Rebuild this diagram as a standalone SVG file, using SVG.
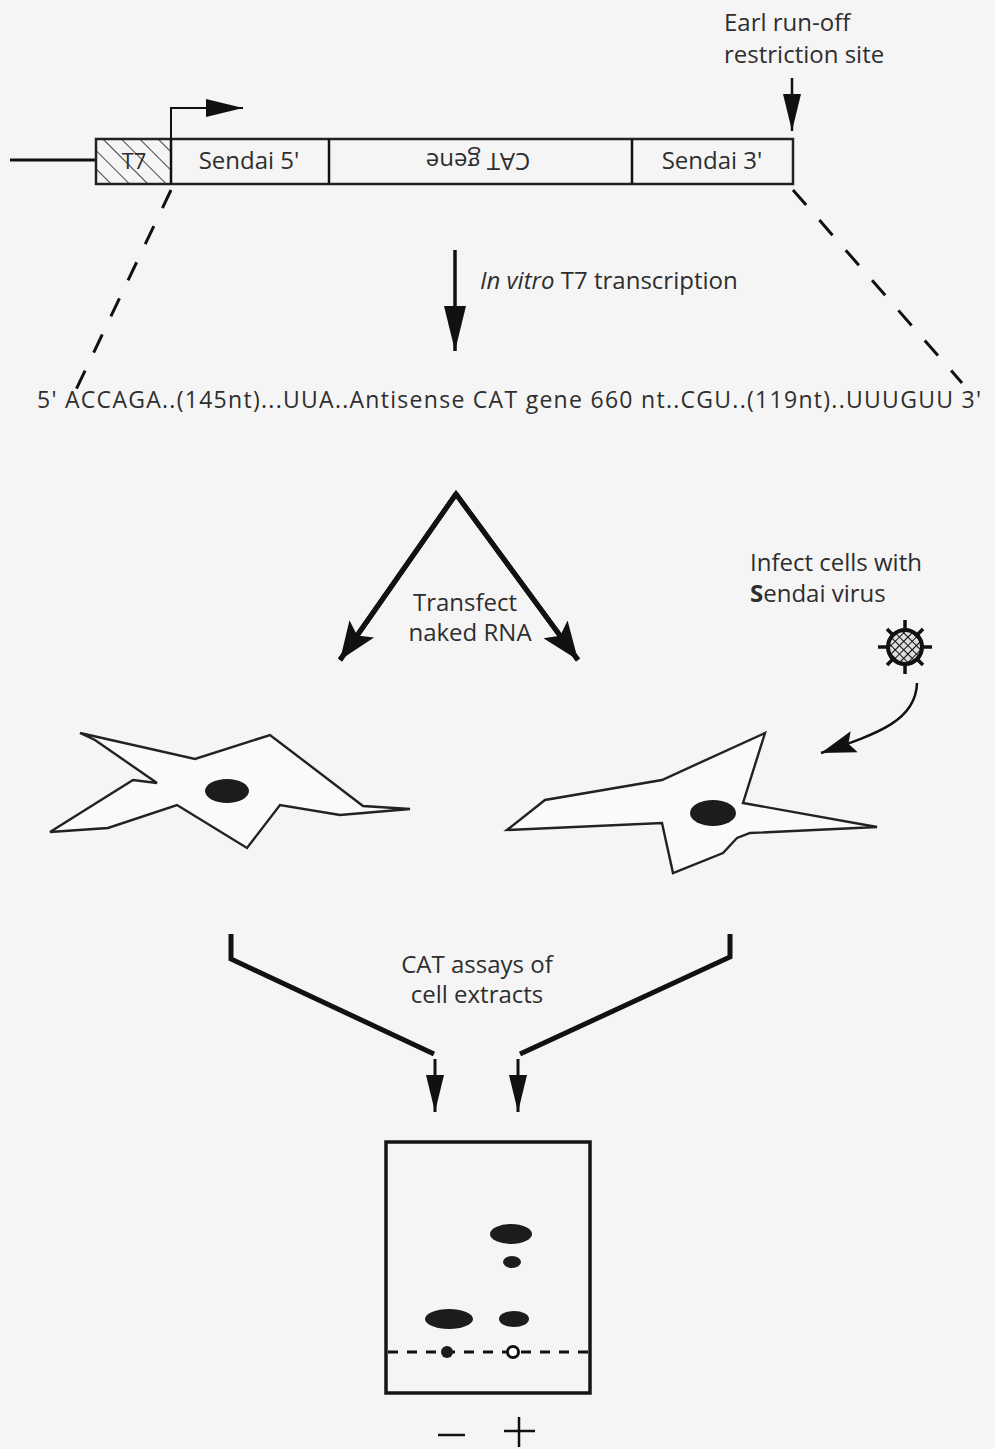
<svg xmlns="http://www.w3.org/2000/svg" width="995" height="1449" viewBox="0 0 995 1449">
  <style>
    .txt { font-family: "Open Sans", "Noto Sans", "DejaVu Sans", sans-serif; fill: #2e2e2e; font-size: 24px; }
    .ln { stroke: #111; fill: none; stroke-linecap: butt; }
    .box { stroke: #222; stroke-width: 2.5; fill: none; }
    .cell { stroke: #222; stroke-width: 2.4; fill: #fafafa; stroke-linejoin: miter; }
    .spot { fill: #1c1c1c; }
    .dash { stroke: #111; stroke-width: 3; stroke-dasharray: 20 20; fill: none; }
  </style>
  <defs>
    <pattern id="hatch" patternUnits="userSpaceOnUse" width="13" height="13" patternTransform="rotate(-45)">
      <line x1="0" y1="0" x2="0" y2="13" stroke="#333" stroke-width="1.8"/>
    </pattern>
    <pattern id="xhatch" patternUnits="userSpaceOnUse" width="6" height="6" patternTransform="rotate(45)">
      <rect width="6" height="6" fill="#ddd"/>
      <line x1="0" y1="0" x2="0" y2="6" stroke="#111" stroke-width="2"/>
      <line x1="0" y1="0" x2="6" y2="0" stroke="#111" stroke-width="2"/>
    </pattern>
    <marker id="headL" markerUnits="userSpaceOnUse" markerWidth="40" markerHeight="34" refX="38" refY="17" orient="auto">
      <path d="M0,2 L38,17 L0,32 L8,17 Z" fill="#111"/>
    </marker>
    <marker id="headM" markerUnits="userSpaceOnUse" markerWidth="46" markerHeight="26" refX="45" refY="13" orient="auto">
      <path d="M0,2 L45,13 L0,24 Z" fill="#111"/>
    </marker>
    <marker id="headS" markerUnits="userSpaceOnUse" markerWidth="38" markerHeight="20" refX="37" refY="10" orient="auto">
      <path d="M0,1 L37,10 L0,19 Z" fill="#111"/>
    </marker>
    <marker id="headC" markerUnits="userSpaceOnUse" markerWidth="36" markerHeight="24" refX="35" refY="12" orient="auto">
      <path d="M0,1 L35,12 L0,23 L6,12 Z" fill="#111"/>
    </marker>
  </defs>

  <rect width="995" height="1449" fill="#f5f5f5"/>

  <!-- plasmid construct -->
  <g id="construct">
    <line class="ln" x1="10" y1="160" x2="96" y2="160" stroke-width="3"/>
    <rect x="96" y="139" width="75" height="45" fill="url(#hatch)"/>
    <rect class="box" x="96" y="139" width="697" height="45"/>
    <line class="ln" x1="171" y1="139" x2="171" y2="184" stroke-width="2.5"/>
    <line class="ln" x1="329" y1="139" x2="329" y2="184" stroke-width="2.5"/>
    <line class="ln" x1="632" y1="139" x2="632" y2="184" stroke-width="2.5"/>
    <text class="txt" x="134" y="169" style="font-size:22px" text-anchor="middle">T7</text>
    <text class="txt" x="249" y="169" text-anchor="middle">Sendai 5'</text>
    <text class="txt" x="478" y="169" text-anchor="middle" transform="rotate(180 478 161)">CAT gene</text>
    <text class="txt" x="712" y="169" text-anchor="middle">Sendai 3'</text>
  </g>

  <g id="earl-label">
    <text class="txt" x="724" y="31">Earl run-off</text>
    <text class="txt" x="724" y="63">restriction site</text>
  </g>

  <g id="transcription-label">
    <text class="txt" x="480" y="289"><tspan font-style="italic">In vitro</tspan> T7 transcription</text>
  </g>

  <g id="rna">
    <text class="txt" x="37" y="408" style="font-size:23px" textLength="944" lengthAdjust="spacing">5' ACCAGA..(145nt)...UUA..Antisense CAT gene 660 nt..CGU..(119nt)..UUUGUU 3'</text>
  </g>

  <g id="transfect-label">
    <text class="txt" x="465" y="611" text-anchor="middle">Transfect</text>
    <text class="txt" x="470" y="641" text-anchor="middle">naked RNA</text>
  </g>

  <g id="infect-label">
    <text class="txt" x="750" y="571">Infect cells with</text>
    <text class="txt" x="750" y="602"><tspan font-weight="bold">S</tspan>endai virus</text>
  </g>

  <g id="virus">
    <g stroke="#111" stroke-width="3.5">
      <line x1="905" y1="620" x2="905" y2="674"/>
      <line x1="878" y1="647" x2="932" y2="647"/>
      <line x1="887" y1="629" x2="923" y2="665"/>
      <line x1="887" y1="665" x2="923" y2="629"/>
    </g>
    <circle cx="905" cy="647" r="17" fill="url(#xhatch)" stroke="#111" stroke-width="4"/>
  </g>

  <g id="cell-mock">
    <polygon class="cell" points="80,733 195,759 270,735 363,806 410,809 340,815 280,805 247,848 177,805 108,828 50,832 133,780 157,783 95,740"/>
    <ellipse class="spot" cx="227" cy="791" rx="22" ry="12"/>
  </g>

  <g id="cell-infected">
    <polygon class="cell" points="507,830 545,800 662,780 765,733 743,803 877,827 750,833 737,838 723,853 673,873 662,823"/>
    <ellipse class="spot" cx="713" cy="813" rx="23" ry="13"/>
  </g>

  <g id="tlc-plate">
    <rect x="386" y="1142" width="204" height="251" fill="none" stroke="#151515" stroke-width="3.5"/>
    <line class="ln" x1="388" y1="1352" x2="588" y2="1352" stroke-width="3" stroke-dasharray="10 9"/>
    <ellipse class="spot" cx="511" cy="1234" rx="21" ry="10"/>
    <ellipse class="spot" cx="512" cy="1262" rx="9" ry="6"/>
    <ellipse class="spot" cx="449" cy="1319" rx="24" ry="10"/>
    <ellipse class="spot" cx="514" cy="1319" rx="15" ry="8"/>
    <circle class="spot" cx="447" cy="1352" r="6"/>
    <circle cx="513" cy="1352" r="5.5" fill="#fff" stroke="#111" stroke-width="3"/>
    <line class="ln" x1="438" y1="1435" x2="465" y2="1435" stroke-width="2.5"/>
    <line class="ln" x1="504" y1="1431" x2="535" y2="1431" stroke-width="2.5"/>
    <line class="ln" x1="519" y1="1417" x2="519" y2="1447" stroke-width="2.5"/>
  </g>

  <g id="cat-label">
    <text class="txt" x="477" y="973" text-anchor="middle">CAT assays of</text>
    <text class="txt" x="477" y="1003" text-anchor="middle">cell extracts</text>
  </g>

  <!-- connectors -->
  <g id="connectors">
    <!-- T7 promoter start arrow -->
    <polyline class="ln" points="171,139 171,108 243,108" stroke-width="2" marker-end="url(#headS)"/>
    <!-- Earl site arrow -->
    <line class="ln" x1="792" y1="78" x2="792" y2="131" stroke-width="2.5" marker-end="url(#headS)"/>
    <!-- mapping dashes from construct to transcript -->
    <line class="dash" x1="171" y1="190" x2="73" y2="396"/>
    <line class="dash" x1="793" y1="190" x2="962" y2="383"/>
    <!-- transcription arrow -->
    <line class="ln" x1="455" y1="250" x2="455" y2="351" stroke-width="3.5" marker-end="url(#headM)"/>
    <!-- transfection split -->
    <line class="ln" x1="456" y1="494" x2="340" y2="660" stroke-width="5" marker-end="url(#headL)"/>
    <line class="ln" x1="456" y1="494" x2="578" y2="660" stroke-width="5" marker-end="url(#headL)"/>
    <polyline class="ln" points="340,660 456,494 578,660" stroke-width="5" stroke-linejoin="miter"/>
    <!-- virus infection arrow -->
    <path class="ln" d="M917,683 C916,720 880,733 821,753" stroke-width="2.5" marker-end="url(#headC)"/>
    <!-- extract brackets -->
    <polyline class="ln" points="231,934 231,959 434,1054" stroke-width="5"/>
    <polyline class="ln" points="730,934 730,957 520,1054" stroke-width="5"/>
    <line class="ln" x1="435" y1="1059" x2="435" y2="1112" stroke-width="3" marker-end="url(#headS)"/>
    <line class="ln" x1="518" y1="1059" x2="518" y2="1112" stroke-width="3" marker-end="url(#headS)"/>
  </g>
</svg>
